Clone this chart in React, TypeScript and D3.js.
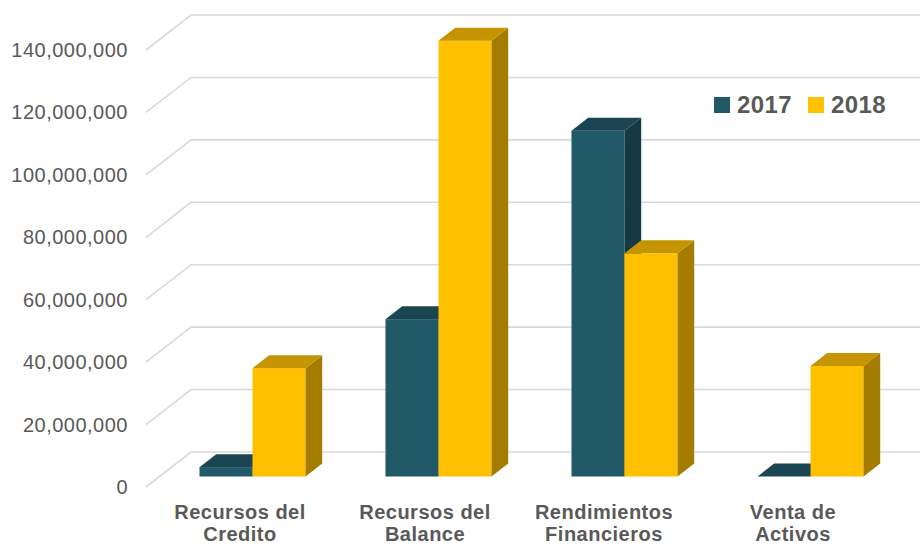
import React from "react";
import * as d3 from "d3";

const categories = [
  "Recursos del Credito",
  "Recursos del Balance",
  "Rendimientos Financieros",
  "Venta de Activos",
];
const seriesNames = ["2017", "2018"];
const values2017 = [3000000, 50400000, 110800000, 0];
const values2018 = [34700000, 139600000, 71500000, 35400000];
const yTicks = [0, 20000000, 40000000, 60000000, 80000000, 100000000, 120000000, 140000000];

const W = 920;
const H = 546;

const palette: Record<string, { front: string; top: string; side: string }> = {
  "2017": { front: "#215968", top: "#1B4553", side: "#163A45" },
  "2018": { front: "#FFC000", top: "#C49500", side: "#A47D00" },
};

// 3D projection: full depth offset of the plot box
const DEPTH_DX = 45;
const DEPTH_DY = -35;
const BAR_F1 = 0.3; // bar front depth fraction
const BAR_F2 = 0.671; // bar back depth fraction
// small horizontal nudges of the wrapped category labels (layout only)
const LABEL_NUDGE = [1, 0, -7, -4];

export default function App() {
  const x = d3
    .scaleBand<string>()
    .domain(categories)
    .range([146, 890])
    .paddingInner(0.43)
    .paddingOuter(0.215);
  const xs = d3.scaleBand<string>().domain(seriesNames).range([0, x.bandwidth()]).padding(0);
  const y = d3.scaleLinear().domain([0, 140000000]).range([487, 50]);
  const fmt = d3.format(",");

  const left = 146;
  const right = 960;

  const series = [
    { name: "2017", values: values2017 },
    { name: "2018", values: values2018 },
  ];

  const bars: JSX.Element[] = [];
  categories.forEach((c, ci) => {
    series.forEach((s) => {
      const v = s.values[ci];
      const ox = DEPTH_DX * BAR_F1;
      const oy = DEPTH_DY * BAR_F1;
      const ddx = DEPTH_DX * (BAR_F2 - BAR_F1);
      const ddy = DEPTH_DY * (BAR_F2 - BAR_F1);
      const x0 = (x(c) as number) + (xs(s.name) as number) + ox;
      const x1 = x0 + xs.bandwidth();
      const yb = y(0) + oy;
      const yt = y(v) + oy;
      const col = palette[s.name];
      const key = `${c}-${s.name}`;
      bars.push(
        <g key={key}>
          <rect x={x0} y={yt} width={x1 - x0} height={Math.max(0, yb - yt)} fill={col.front} />
          <polygon
            points={`${x1},${yt} ${x1 + ddx},${yt + ddy} ${x1 + ddx},${yb + ddy} ${x1},${yb}`}
            fill={col.side}
          />
          <polygon
            points={`${x0},${yt} ${x1},${yt} ${x1 + ddx},${yt + ddy} ${x0 + ddx},${yt + ddy}`}
            fill={col.top}
          />
        </g>
      );
    });
  });

  return (
    <svg
      width={W}
      height={H}
      style={{ position: "absolute", left: 0, top: 0, background: "#ffffff" }}
      fontFamily="'Liberation Sans', Arial, sans-serif"
    >
      {yTicks.map((t) => (
        <g key={t}>
          <polyline
            points={`${left},${y(t)} ${left + DEPTH_DX},${y(t) + DEPTH_DY} ${right},${y(t) + DEPTH_DY}`}
            fill="none"
            stroke="#D9D9D9"
            strokeWidth={1.6}
          />
          <text
            x={128}
            y={y(t)}
            textAnchor="end"
            dominantBaseline="central"
            fontSize={20}
            letterSpacing={0.5}
            fill="#595959"
          >
            {fmt(t)}
          </text>
        </g>
      ))}

      {bars}

      {categories.map((c, i) => {
        const k = c.lastIndexOf(" ");
        const l1 = c.slice(0, k);
        const l2 = c.slice(k + 1);
        const cx = (x(c) as number) + x.bandwidth() / 2 + LABEL_NUDGE[i];
        return (
          <text
            key={c}
            x={cx}
            textAnchor="middle"
            fontSize={20}
            fontWeight="bold"
            letterSpacing={0.5}
            fill="#595959"
          >
            <tspan x={cx} y={519}>
              {l1}
            </tspan>
            <tspan x={cx} y={541}>
              {l2}
            </tspan>
          </text>
        );
      })}

      {seriesNames.map((n, i) => {
        const lx = 714 + i * 94;
        return (
          <g key={n}>
            <rect x={lx} y={97} width={16} height={16} fill={palette[n].front} />
            <text
              x={lx + 23}
              y={113}
              fontSize={24}
              fontWeight="bold"
              letterSpacing={0.4}
              fill="#595959"
            >
              {n}
            </text>
          </g>
        );
      })}
    </svg>
  );
}
